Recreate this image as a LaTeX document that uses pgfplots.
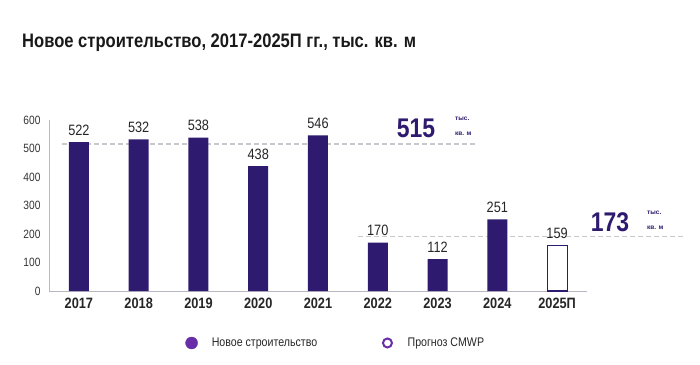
\documentclass[border=0pt]{standalone}
\usepackage{pgfplots}
\pgfplotsset{compat=1.18}
\usepackage{fontspec}
\setmainfont{Liberation Sans}[FakeStretch=0.85]
\newfontfamily\plainfont{Liberation Sans}
\definecolor{barc}{HTML}{2E1A6E}
\definecolor{legc}{HTML}{6A2DA8}
\definecolor{dashc}{HTML}{C8C8CE}
\definecolor{axc}{HTML}{B8B8C0}
\begin{document}
\begin{tikzpicture}[x=1pt,y=1pt]
\path[use as bounding box] (0,0) rectangle (700,364);
\node[anchor=base west, font=\bfseries\fontsize{19.5}{21}\selectfont, text=black!90, inner sep=0pt] at (22,316) {Новое строительство, 2017-2025П гг., тыс. кв. м};
\begin{axis}[
  at={(49pt,73pt)}, anchor=south west,
  scale only axis, width=538pt, height=171pt,
  xmin=-0.5, xmax=8.5, ymin=0, ymax=600,
  axis x line*=bottom, axis y line*=left,
  axis line style={-, draw=axc, line width=0.8pt},
  ytick={0,100,...,600}, xtick={0,...,8},
  xticklabels={2017,2018,2019,2020,2021,2022,2023,2024,2025П},
  major tick length=0pt,
  clip=false,
  /pgf/number format/assume math mode=true,
  yticklabel style={font=\fontsize{12}{12}\selectfont, text=black!80, xshift=-5pt},
  xticklabel style={font=\bfseries\fontsize{15}{15}\selectfont, text=black!85, yshift=-3pt},
  legend style={at={(0.533,-0.304)}, anchor=center, draw=none, fill=none,
    font=\fontsize{12.5}{12.5}\selectfont, text=black!85,
    /tikz/every even column/.append style={column sep=62pt}},
  legend columns=2, legend cell align=left,
]
\addplot[sharp plot, dashc, line width=1.2pt, dash pattern=on 5pt off 3pt, forget plot]
  coordinates {(-0.28,516) (6.63,516)};
\addplot[sharp plot, dashc, line width=1.2pt, dash pattern=on 5pt off 3pt, forget plot]
  coordinates {(4.67,192) (10.11,192)};
\addplot[ybar, bar width=20pt, bar shift=0pt, fill=barc, draw=none,
  nodes near coords, nodes near coords style={font=\fontsize{15}{15}\selectfont, text=black!85, yshift=3pt}, forget plot]
  coordinates {(0,522) (1,532) (2,538) (3,438) (4,546) (5,170) (6,112) (7,251)};
\addplot[ybar, bar width=20pt, bar shift=0pt, fill=white, draw=barc, line width=1.2pt,
  nodes near coords, nodes near coords style={font=\fontsize{15}{15}\selectfont, text=black!85, yshift=3pt}, forget plot]
  coordinates {(8,159)};
\addlegendimage{legend image code/.code={\fill[legc] (6pt,0) circle (6pt); \path (0,0) (24pt,0);}}
\addlegendentry{Новое строительство}
\addlegendimage{legend image code/.code={\draw[legc, line width=2pt] (6pt,0) circle (4.5pt); \path (0,0) (24pt,0);}}
\addlegendentry{Прогноз CMWP}
\end{axis}
\node[font=\bfseries\fontsize{27}{27}\selectfont, text=barc, inner sep=0pt] at (416,236) {515};
\node[anchor=west, font=\plainfont\bfseries\fontsize{6.5}{8}\selectfont, text=barc, inner sep=0pt] at (455,245) {тыс.};
\node[anchor=west, font=\plainfont\bfseries\fontsize{6.5}{8}\selectfont, text=barc, inner sep=0pt] at (455,230) {кв. м};
\node[font=\bfseries\fontsize{27}{27}\selectfont, text=barc, inner sep=0pt] at (610,142) {173};
\node[anchor=west, font=\plainfont\bfseries\fontsize{6.5}{8}\selectfont, text=barc, inner sep=0pt] at (647,151) {тыс.};
\node[anchor=west, font=\plainfont\bfseries\fontsize{6.5}{8}\selectfont, text=barc, inner sep=0pt] at (647,136) {кв. м};
\end{tikzpicture}
\end{document}
